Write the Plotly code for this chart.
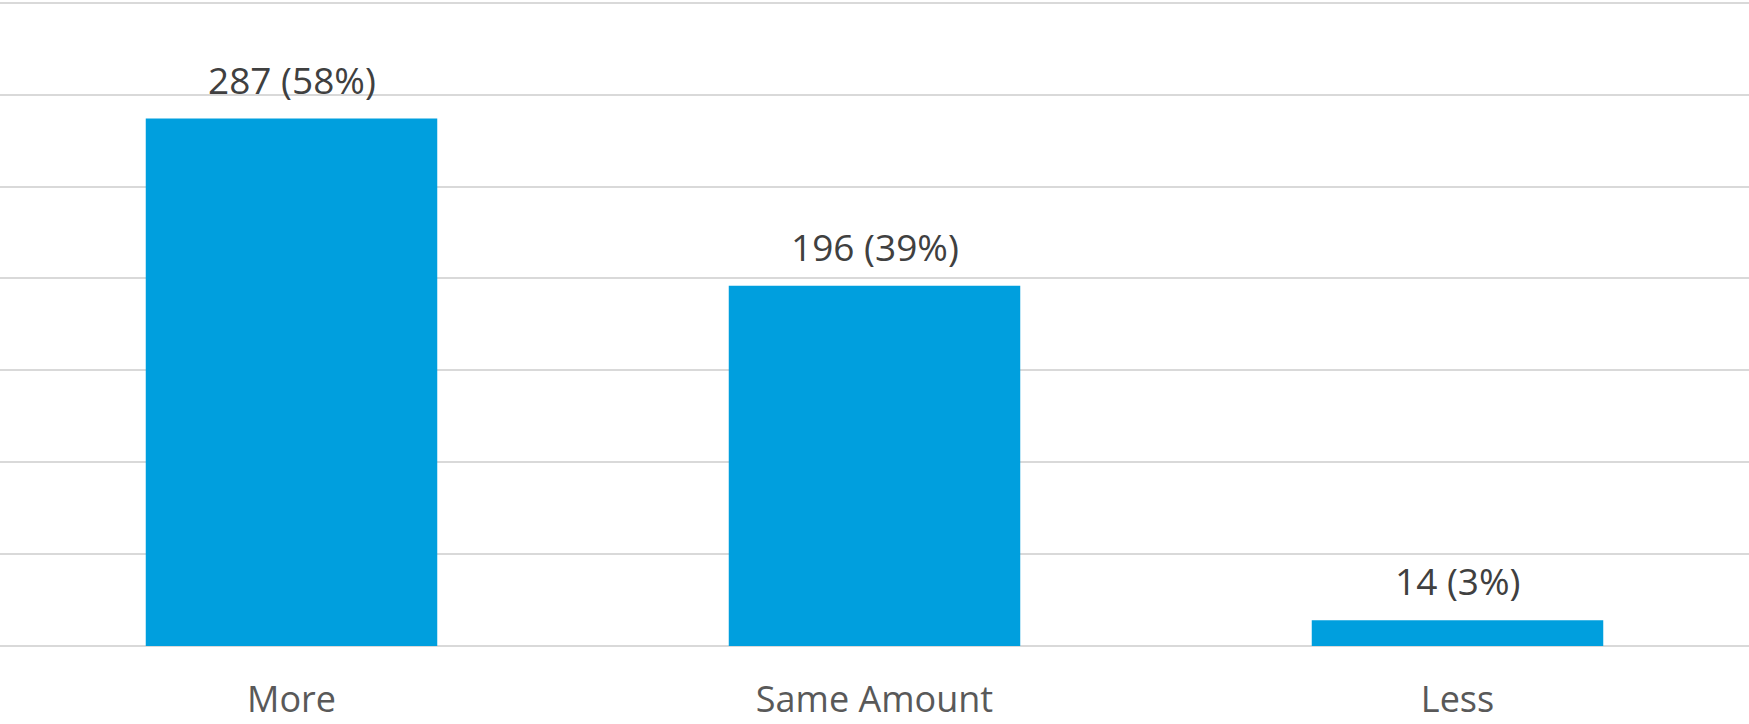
import plotly.graph_objects as go

categories = ["More", "Same Amount", "Less"]
counts = [287, 196, 14]
percents = [58, 39, 3]

labels = [f"{c} ({p}%)" for c, p in zip(counts, percents)]

fig = go.Figure()
fig.add_trace(go.Bar(
    x=categories, y=counts,
    marker=dict(color="#009FDE", line=dict(width=0)),
))

# value labels above the bars
for cat, val, lab in zip(categories, counts, labels):
    fig.add_annotation(
        x=cat, y=val, text=lab, showarrow=False,
        yanchor="bottom", yshift=12,
        font=dict(family="Open Sans, sans-serif", size=37, color="#404040"),
    )

fig.update_layout(
    width=1749, height=724,
    margin=dict(l=0, r=0, t=1, b=78),
    paper_bgcolor="white", plot_bgcolor="white",
    bargap=0.5,
    showlegend=False,
    font=dict(family="Open Sans, sans-serif"),
)
fig.update_xaxes(
    automargin=False,
    showline=False, showgrid=False,
    ticks="outside", ticklen=22, tickcolor="rgba(0,0,0,0)",
    tickfont=dict(family="Open Sans, sans-serif", size=36, color="#595959"),
)
fig.update_yaxes(
    automargin=False,
    range=[0, 351], dtick=50,
    showgrid=True, gridcolor="#d9d9d9", gridwidth=2,
    zeroline=True, zerolinecolor="#d9d9d9", zerolinewidth=2,
    showticklabels=False,
)

# drop the default page margin so the figure fills the window
fig.write_html("out.html", config={"displayModeBar": False},
               post_script="document.body.style.margin='0';")
